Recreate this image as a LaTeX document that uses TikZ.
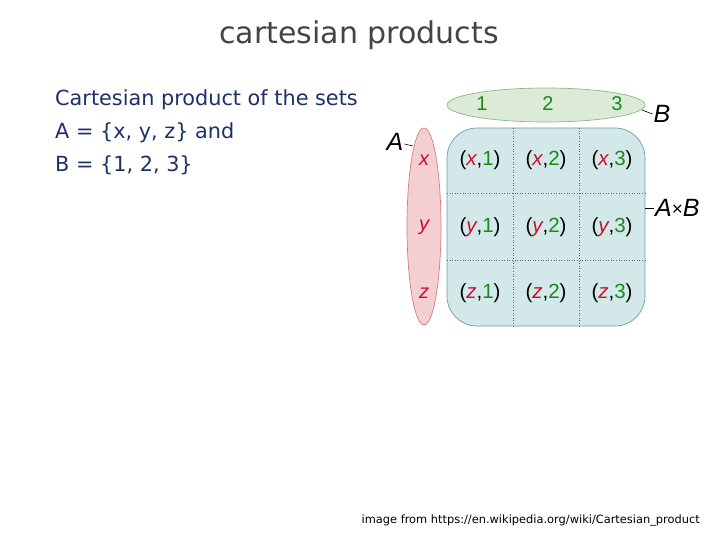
\documentclass[tikz,border=0pt]{standalone}
\usepackage{fontspec}
\setmainfont{DejaVu Sans}
\newfontfamily\diagfont{Liberation Sans}
\usetikzlibrary{shapes.geometric}
\definecolor{titlegray}{HTML}{444444}
\definecolor{navy}{HTML}{1F2F6B}
\definecolor{setred}{HTML}{C8102E}
\definecolor{setgreen}{HTML}{1A8A1A}
\definecolor{redfill}{HTML}{F4CFD2}
\definecolor{redline}{HTML}{D87A82}
\definecolor{greenfill}{HTML}{DCEBD5}
\definecolor{greenline}{HTML}{8FB58A}
\definecolor{tealfill}{HTML}{D3E8E8}
\definecolor{tealline}{HTML}{6F9E9E}
\tikzset{
  cell/.style={font=\diagfont\fontsize{20.5}{22}\selectfont, inner sep=0pt},
  setlabel/.style={font=\diagfont\itshape\fontsize{25}{27}\selectfont, inner sep=0pt},
  elem/.style={font=\diagfont\itshape\fontsize{20}{22}\selectfont, text=setred, inner sep=0pt},
  num/.style={font=\diagfont\fontsize{20}{22}\selectfont, text=setgreen, inner sep=0pt},
  leader/.style={black, line width=0.6pt},
  gridline/.style={black!60, dotted, line width=0.6pt},
  bodytext/.style={font=\fontsize{20.8}{23}\selectfont, text=navy, anchor=west, inner sep=0pt}
}
\newcommand{\pr}[2]{(\textcolor{setred}{\itshape #1},\textcolor{setgreen}{#2})}
\begin{document}
\begin{tikzpicture}[x=1pt,y=-1pt]
\useasboundingbox (0,0) rectangle (720,540);
% title
\node[font=\fontsize{30}{34}\selectfont, text=titlegray] (title) at (359,35) {cartesian products};
% left text
\node[bodytext] (l1) at (55,100) {Cartesian product of the sets};
\node[bodytext] (l2) at (55,133) {A = \{x, y, z\} and};
\node[bodytext] (l3) at (55,165) {B = \{1, 2, 3\}};
% product rectangle
\draw[fill=tealfill, draw=tealline, line width=0.7pt, rounded corners=30pt] (447,128) rectangle (645,326);
\coordinate (v1t) at (513,128); \coordinate (v1b) at (513,326);
\coordinate (v2t) at (579,128); \coordinate (v2b) at (579,326);
\coordinate (h1l) at (447,193); \coordinate (h1r) at (645,193);
\coordinate (h2l) at (447,260); \coordinate (h2r) at (645,260);
\draw[gridline] (v1t) -- (v1b);
\draw[gridline] (v2t) -- (v2b);
\draw[gridline] (h1l) -- (h1r);
\draw[gridline] (h2l) -- (h2r);
% set A
\node[ellipse, draw=redline, fill=redfill, line width=0.7pt, minimum width=34pt, minimum height=197pt, inner sep=0pt] (setA) at (424,226.5) {};
% set B
\node[ellipse, draw=greenline, fill=greenfill, line width=0.7pt, minimum width=198pt, minimum height=34pt, inner sep=0pt] (setB) at (546,105) {};
% elements
\node[elem] (ex) at (424,160) {x};
\node[elem] (ey) at (424,227) {y};
\node[elem] (ez) at (424,293) {z};
\node[num] (n1) at (482,104) {1};
\node[num] (n2) at (548,104) {2};
\node[num] (n3) at (617,104) {3};
% cells
\node[cell] (c11) at (480,160) {\pr{x}{1}};
\node[cell] (c12) at (546,160) {\pr{x}{2}};
\node[cell] (c13) at (612,160) {\pr{x}{3}};
\node[cell] (c21) at (480,227) {\pr{y}{1}};
\node[cell] (c22) at (546,227) {\pr{y}{2}};
\node[cell] (c23) at (612,227) {\pr{y}{3}};
\node[cell] (c31) at (480,293) {\pr{z}{1}};
\node[cell] (c32) at (546,293) {\pr{z}{2}};
\node[cell] (c33) at (612,293) {\pr{z}{3}};
% labels
\node[setlabel] (lA) at (395,142) {A};
\node[setlabel] (lB) at (662,114) {B};
\node[setlabel, anchor=west] (lAB) at (655,208) {A\textup{\fontsize{19}{20}\selectfont\raisebox{1pt}{×}}B};
\coordinate (aend) at (413,146);
\coordinate (bstart) at (642,110);
\coordinate (abstart) at (645,208);
\draw[leader] (lA.east) ++(1,2) -- (aend);
\draw[leader] (bstart) -- ([xshift=-1pt]lB.west);
\draw[leader] (abstart) -- ([xshift=-1pt]lAB.west);
% footer
\node[font=\fontsize{11.4}{13}\selectfont, anchor=east, inner sep=0pt] (foot) at (700,521) {image from https://en.wikipedia.org/wiki/Cartesian\_product};
\end{tikzpicture}
\end{document}
